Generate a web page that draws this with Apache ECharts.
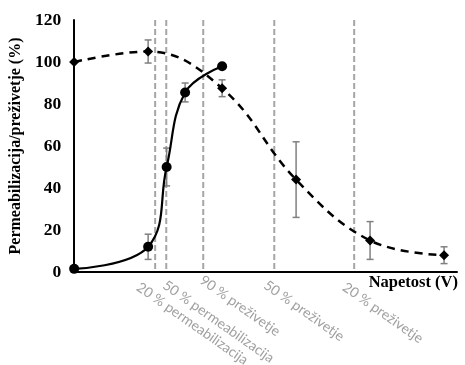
<!DOCTYPE html>
<html><head><meta charset="utf-8">
<script src="https://cdn.jsdelivr.net/npm/echarts@6/dist/echarts.min.js"></script>
<style>html,body{margin:0;padding:0;background:#fff}#c{width:465px;height:365px}</style>
</head><body><div id="c"></div>
<script>
// ---- data ----
const permX = [0, 200, 250, 300, 400];
const permY = [1.5, 12, 50, 85.5, 98];
const permErr = [0, 6, 9, 4.5, 0];
const survX = [0, 200, 400, 600, 800, 1000];
const survY = [100, 105, 87.5, 44, 15, 8];
const survErr = [0, 5.5, 4, 18, 9, 4];
const thrX = [219, 249, 349, 541, 757];
const thrLabels = ['20 % permeabilizacija', '50 % permeabilizacija', '90 % preživetje', '50 % preživetje', '20 % preživetje'];
const yTicks = [0, 20, 40, 60, 80, 100, 120];

// ---- style (pixels) ----
const labelDx = [-13, 2, 2, -5, -6];
const labelDy = [8, 6, 1, 6, 8];

const serif = '"Liberation Serif", "Times New Roman", serif';
const chart = echarts.init(document.getElementById('c'));

function errItem(params, api) {
  const x = api.value(0), y = api.value(1), e = api.value(2);
  if (!e) return null;
  const top = api.coord([x, y + e]), bot = api.coord([x, y - e]);
  const w = 3.5;
  const st = {stroke: '#808080', lineWidth: 1.5};
  return {type: 'group', children: [
    {type: 'line', shape: {x1: top[0], y1: top[1], x2: bot[0], y2: bot[1]}, style: st},
    {type: 'line', shape: {x1: top[0] - w, y1: top[1], x2: top[0] + w, y2: top[1]}, style: st},
    {type: 'line', shape: {x1: bot[0] - w, y1: bot[1], x2: bot[0] + w, y2: bot[1]}, style: st}
  ]};
}

function thrItem(params, api) {
  const i = params.dataIndex;
  const x = api.value(0);
  const top = api.coord([x, yTicks[yTicks.length - 1]]);
  const bot = api.coord([x, 0]);
  return {type: 'group', children: [
    {type: 'line', shape: {x1: top[0], y1: top[1], x2: bot[0], y2: bot[1]},
     style: {stroke: '#a6a6a6', lineWidth: 2, lineDash: [6, 3]}},
    {type: 'text', x: bot[0] + labelDx[i], y: bot[1] + labelDy[i], rotation: -35 * Math.PI / 180,
     style: {text: thrLabels[i], fill: '#a0a0a0', font: '14px Lato, "Liberation Sans", sans-serif',
             align: 'left', verticalAlign: 'top'}}
  ]};
}

chart.setOption({
  animation: false,
  grid: {left: 74, right: 8, top: 20, bottom: 93},
  xAxis: {type: 'value', min: 0, max: 1035,
    axisLine: {show: true, onZero: false, lineStyle: {color: '#000', width: 2}},
    axisTick: {show: false}, axisLabel: {show: false}, splitLine: {show: false}},
  yAxis: {type: 'value', min: 0, max: 120, interval: 20,
    name: 'Permeabilizacija/preživetje (%)', nameLocation: 'middle', nameGap: 48,
    nameTextStyle: {fontFamily: serif, fontWeight: 'bold', fontSize: 16, color: '#000'},
    axisLine: {show: true, lineStyle: {color: '#000', width: 2}},
    axisTick: {show: false}, splitLine: {show: false},
    axisLabel: {fontFamily: serif, fontWeight: 'bold', fontSize: 17.5, color: '#000', margin: 13}},
  graphic: [{type: 'text', right: 7, top: 274,
    style: {text: 'Napetost (V)', font: 'bold 16.5px ' + serif, fill: '#000'}}],
  series: [
    {type: 'custom', renderItem: thrItem, data: thrX.map(v => [v]), z: 1, clip: false, silent: true},
    {type: 'custom', renderItem: errItem, data: survX.map((x, i) => [x, survY[i], survErr[i]]), z: 2},
    {type: 'custom', renderItem: errItem, data: permX.map((x, i) => [x, permY[i], permErr[i]]), z: 2},
    {type: 'line', data: survX.map((x, i) => [x, survY[i]]), smooth: 0.4, z: 3,
     symbol: 'diamond', symbolSize: 10, itemStyle: {color: '#000'},
     lineStyle: {color: '#000', width: 2.5, type: [8, 6]}},
    {type: 'line', data: permX.map((x, i) => [x, permY[i]]), smooth: 0.4, z: 4,
     symbol: 'circle', symbolSize: 10, itemStyle: {color: '#000'},
     lineStyle: {color: '#000', width: 2.2}}
  ]
});
</script></body></html>
